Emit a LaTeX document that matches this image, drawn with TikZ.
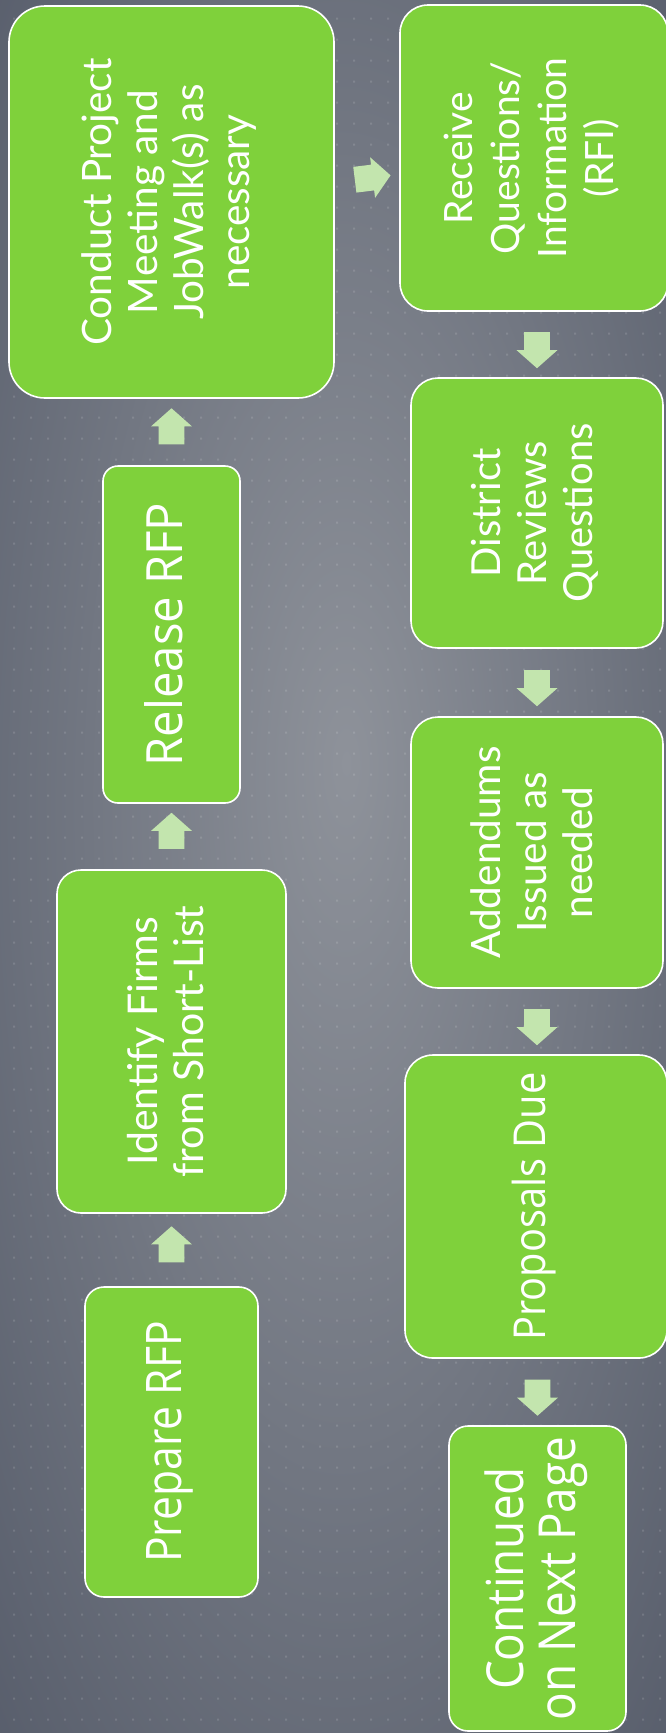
\documentclass[tikz,border=0pt]{standalone}
\usepackage{fontspec}
\setmainfont{Lato}
\newfontfamily\segrel[FakeStretch=0.945]{Open Sans}
\newfontfamily\segprep[FakeStretch=0.87]{Open Sans}
\newfontfamily\segprop[FakeStretch=0.905]{Open Sans}
\newfontfamily\segcont[FakeStretch=0.9]{Open Sans}
\usepackage{graphicx}
\usetikzlibrary{shapes.arrows,calc}
\definecolor{boxgreen}{HTML}{7FD13B}
\definecolor{arrowgreen}{HTML}{C3E5AE}
\definecolor{bgin}{RGB}{142,146,154}
\definecolor{bgout}{RGB}{86,92,106}
\pgfdeclareradialshading{bgshade}{\pgfpoint{1bp}{3bp}}{color(0bp)=(bgin); color(38bp)=(bgout); color(50bp)=(bgout)}
\newcommand\gtext[3]{\rotatebox{90}{\fontsize{#1}{#2}\selectfont\begin{tabular}{@{}c@{}}#3\end{tabular}}}
\newcommand\stext[4]{\rotatebox{90}{#1\fontsize{#2}{#3}\selectfont\begin{tabular}{@{}c@{}}#4\end{tabular}}}
\newcommand\shaft{\vrule width 0pt height 12.75pt depth 12.75pt}
\begin{document}
\begin{tikzpicture}[x=1pt,y=-1pt,
  box/.style={draw=white, line width=1.6pt, fill=boxgreen, text=white, inner sep=0pt},
  blockarrow/.style={single arrow, fill=arrowgreen, draw=none, inner sep=0pt,
    minimum height=36pt, single arrow head extend=7.5pt,
    single arrow tip angle=97, single arrow head indent=0pt, sloped, allow upside down}]
\useasboundingbox (0,0) rectangle (666,1733);
\shade[shading=bgshade] (0,0) rectangle (666,1733);
\fill[white, opacity=0.13] \foreach \i in {0,...,38}{\foreach \j in {0,...,82}{(13+17*\i, 17.7+21*\j) rectangle ++(2,2)}};

% left column
\node[box, rounded corners=36pt, minimum width=325pt, minimum height=392pt] (conduct) at (171.5,202)
  {\gtext{40.5}{46}{Conduct Project\\Meeting and\\JobWalk(s) as\\necessary}};
\node[box, rounded corners=15pt, minimum width=137pt, minimum height=337pt] (release) at (171.5,634.5)
  {\stext{\segrel}{50}{54}{Release RFP}};
\node[box, rounded corners=24pt, minimum width=229pt, minimum height=343pt] (identify) at (171.5,1041.5)
  {\gtext{41}{46}{Identify Firms\\from Short-List}};
\node[box, rounded corners=19pt, minimum width=173pt, minimum height=310pt] (prepare) at (171.5,1442)
  {\stext{\segprep}{49}{52}{Prepare RFP}};

% right column
\node[box, rounded corners=28pt, minimum width=268pt, minimum height=306pt] (receive) at (534,158)
  {\gtext{39}{47}{Receive\\Questions/\\Information\\(RFI)}};
\node[box, rounded corners=27pt, minimum width=252pt, minimum height=270pt] (district) at (537,513)
  {\gtext{40}{46}{District\\Reviews\\Questions}};
\node[box, rounded corners=27pt, minimum width=252pt, minimum height=271pt] (addendums) at (537,852.5)
  {\gtext{40.5}{46}{Addendums\\Issued as\\needed}};
\node[box, rounded corners=28pt, minimum width=262pt, minimum height=303pt] (proposals) at (536,1206.5)
  {\stext{\segprop}{44}{46}{Proposals Due}};
\node[box, rounded corners=19pt, minimum width=177pt, minimum height=305pt] (continued) at (537.5,1578.5)
  {\stext{\segcont}{51}{49}{Continued\\on Next Page}};

% connectors
\path (prepare.north) -- node[blockarrow] {\shaft} (identify.south);
\path (identify.north) -- node[blockarrow] {\shaft} (release.south);
\path (release.north) -- node[blockarrow] {\shaft} (conduct.south);
\path (conduct) -- node[blockarrow] {\shaft} (receive);
\path (district.north |- receive.south) -- node[blockarrow] {\shaft} (district.north);
\path (district.south) -- node[blockarrow] {\shaft} (addendums.north);
\path (addendums.south) -- node[blockarrow] {\shaft} (addendums.south |- proposals.north);
\path (continued.north |- proposals.south) -- node[blockarrow] {\shaft} (continued.north);
\end{tikzpicture}
\end{document}
